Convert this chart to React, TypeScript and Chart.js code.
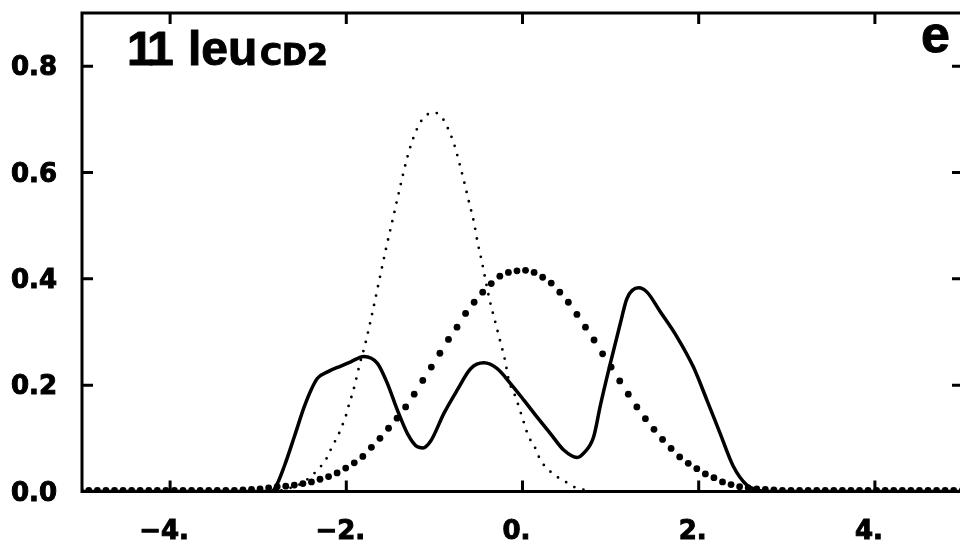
import React, { useEffect, useRef } from "react";
import { Chart, registerables } from "chart.js";

Chart.register(...registerables);

// ---- axes ----
const X_MIN = -5;
const X_MAX = 5;
const Y_MIN = 0;
const Y_MAX = 0.9;
const X_TICKS = [-4, -2, 0, 2, 4];
const X_TICK_LABELS = ["\u22124.", "\u22122.", "0.", "2.", "4."];
const Y_TICKS = [0, 0.2, 0.4, 0.6, 0.8];
const Y_TICK_LABELS = ["0.0", "0.2", "0.4", "0.6", "0.8"];

const TITLE_NUM = "11";
const TITLE_MAIN = "leu";
const TITLE_SUB = "CD2";
const PANEL_LABEL = "e";

// ---- solid curve ----
const SOLID_X = [
  -5, -2.85, -2.8, -2.705, -2.59, -2.478, -2.4, -2.327, -2.213, -2.062, -1.949, -1.8,
  -1.647, -1.533, -1.42, -1.306, -1.193, -1.13, -1.042, -0.892, -0.74, -0.589, -0.438,
  -0.287, -0.136, 0.015, 0.166, 0.317, 0.468, 0.62, 0.695, 0.808, 0.884, 0.997, 1.11,
  1.186, 1.318, 1.413, 1.564, 1.753, 1.94, 2.093, 2.244, 2.394, 2.546, 2.66, 2.8, 5,
];
const SOLID_Y = [
  0, 0, 0.009, 0.047, 0.103, 0.159, 0.191, 0.213, 0.225, 0.236, 0.244, 0.254,
  0.241, 0.203, 0.153, 0.109, 0.084, 0.082, 0.095, 0.147, 0.191, 0.231, 0.242,
  0.231, 0.203, 0.172, 0.14, 0.109, 0.078, 0.064, 0.072, 0.103, 0.162, 0.241, 0.316,
  0.363, 0.383, 0.375, 0.338, 0.291, 0.234, 0.172, 0.109, 0.047, 0.012, 0.003, 0, 0,
];

// ---- fine dotted curve ----
const THIN_X = [
  -5, -2.85, -2.65, -2.5, -2.365, -2.29, -2.225, -2.176, -2.12, -2.07, -2.03, -1.994,
  -1.964, -1.93, -1.9, -1.85, -1.79, -1.715, -1.62, -1.549, -1.47, -1.397, -1.318,
  -1.25, -1.164, -1.096, -1.005, -0.918, -0.858, -0.778, -0.714, -0.657, -0.604,
  -0.552, -0.51, -0.461, -0.37, -0.314, -0.257, -0.2, -0.155, -0.079, -0.004, 0.07,
  0.13, 0.204, 0.3, 0.39, 0.49, 0.58, 0.7, 0.85, 5,
];
const THIN_Y = [
  0, 0, 0.006, 0.016, 0.034, 0.047, 0.062, 0.079, 0.097, 0.114, 0.131, 0.148,
  0.167, 0.184, 0.203, 0.238, 0.274, 0.328, 0.402, 0.457, 0.514, 0.567, 0.622,
  0.66, 0.693, 0.707, 0.713, 0.704, 0.687, 0.654, 0.616, 0.579, 0.542,
  0.507, 0.469, 0.432, 0.358, 0.322, 0.285, 0.248, 0.209, 0.178, 0.14, 0.103,
  0.087, 0.059, 0.04, 0.028, 0.018, 0.009, 0.003, 0, 0,
];

// ---- large-dot curve (sampled on a regular x grid) ----
const BIG_X0 = -5.02;
const BIG_STEP = 0.0972;
const BIG_Y = [
  0.002, 0.002, 0.002, 0.002, 0.002, 0.002, 0.002, 0.002, 0.002, 0.002,
  0.002, 0.002, 0.002, 0.002, 0.002, 0.002, 0.002, 0.002, 0.002, 0.003,
  0.004, 0.005, 0.007, 0.009, 0.01, 0.012, 0.015, 0.018, 0.023, 0.028,
  0.035, 0.044, 0.054, 0.066, 0.083, 0.1, 0.119, 0.138, 0.159, 0.183,
  0.209, 0.234, 0.26, 0.286, 0.309, 0.335, 0.356, 0.375, 0.391, 0.405,
  0.412, 0.415, 0.416, 0.412, 0.403, 0.392, 0.375, 0.356, 0.333, 0.309,
  0.285, 0.259, 0.234, 0.208, 0.183, 0.159, 0.137, 0.117, 0.098, 0.081,
  0.065, 0.053, 0.043, 0.033, 0.026, 0.018, 0.013, 0.009, 0.007, 0.005,
  0.004, 0.003, 0.002, 0.002, 0.002, 0.002, 0.002, 0.002, 0.002, 0.002,
  0.002, 0.002, 0.002, 0.002, 0.002, 0.002, 0.002, 0.002, 0.002, 0.002,
  0.002, 0.002, 0.002, 0.002,
];

const pairs = (xs: number[], ys: number[]) => xs.map((x, i) => ({ x, y: ys[i] }));

const framePlugin = {
  id: "framePlugin",
  afterDraw(chart: any) {
    const { ctx, chartArea: a, scales } = chart;
    const xs = scales.x;
    const ys = scales.y;
    ctx.save();
    ctx.strokeStyle = "#000";
    ctx.lineWidth = 3;
    ctx.strokeRect(a.left, a.top, a.right - a.left, a.bottom - a.top);
    const L = 11;
    ctx.beginPath();
    X_TICKS.forEach((v) => {
      const px = xs.getPixelForValue(v);
      ctx.moveTo(px, a.bottom);
      ctx.lineTo(px, a.bottom - L);
      ctx.moveTo(px, a.top);
      ctx.lineTo(px, a.top + L);
    });
    Y_TICKS.forEach((v) => {
      if (v === 0) return;
      const py = ys.getPixelForValue(v);
      ctx.moveTo(a.left, py);
      ctx.lineTo(a.left + L, py);
      ctx.moveTo(a.right, py);
      ctx.lineTo(a.right - L, py);
    });
    ctx.stroke();

    ctx.fillStyle = "#000";
    ctx.strokeStyle = "#000";
    ctx.lineWidth = 1;
    ctx.lineJoin = "round";
    ctx.textAlign = "left";
    ctx.textBaseline = "alphabetic";
    const text = (s: string, x: number, y: number) => {
      ctx.fillText(s, x, y);
      ctx.strokeText(s, x, y);
    };
    ctx.font = 'bold 48px "Liberation Sans", Arial, sans-serif';
    (ctx as any).letterSpacing = "-4px";
    text(TITLE_NUM, 127, 65);
    (ctx as any).letterSpacing = "0px";
    text(TITLE_MAIN, 188, 65);
    ctx.font = 'bold 30px "DejaVu Sans", sans-serif';
    text(TITLE_SUB, 260, 65);
    ctx.font = 'bold 52px "Liberation Sans", Arial, sans-serif';
    text(PANEL_LABEL, 921, 52);
    ctx.restore();
  },
};

export default function App() {
  const ref = useRef<HTMLCanvasElement | null>(null);

  useEffect(() => {
    if (!ref.current) return;
    const bigX = BIG_Y.map((_, i) => BIG_X0 + i * BIG_STEP);
    const tickFont = { family: "DejaVu Sans", size: 26, weight: "bold" as const };
    const chart = new Chart(ref.current, {
      type: "scatter",
      data: {
        datasets: [
          {
            label: "solid",
            data: pairs(SOLID_X, SOLID_Y),
            showLine: true,
            borderColor: "#000",
            borderWidth: 3.5,
            pointRadius: 0,
            cubicInterpolationMode: "monotone",
            fill: false,
          },
          {
            label: "fine dots",
            data: pairs(THIN_X, THIN_Y),
            showLine: true,
            borderColor: "#000",
            borderWidth: 2.8,
            borderDash: [0, 9.5],
            borderCapStyle: "round",
            pointRadius: 0,
            cubicInterpolationMode: "monotone",
            fill: false,
          },
          {
            label: "large dots",
            data: pairs(bigX, BIG_Y),
            showLine: false,
            pointRadius: 3.4,
            pointBorderWidth: 0,
            pointBackgroundColor: "#000",
            pointBorderColor: "#000",
          },
        ],
      },
      options: {
        responsive: false,
        animation: false,
        events: [],
        layout: { padding: { top: 13, right: 7, left: 0, bottom: 0 } },
        plugins: {
          legend: { display: false },
          tooltip: { enabled: false },
          title: { display: false },
        },
        scales: {
          x: {
            type: "linear",
            min: X_MIN,
            max: X_MAX,
            afterBuildTicks: (s: any) => {
              s.ticks = X_TICKS.map((v) => ({ value: v }));
            },
            afterFit: (s: any) => {
              s.height = 54.5;
              s.paddingLeft = 0;
              s.paddingRight = 0;
              s.paddingTop = 0;
              s.paddingBottom = 0;
            },
            grid: { display: false, drawTicks: false },
            border: { display: false },
            ticks: {
              autoSkip: false,
              maxRotation: 0,
              padding: 25,
              labelOffset: -6,
              color: "#000",
              textStrokeColor: "#000",
              textStrokeWidth: 1,
              font: tickFont,
              callback: (_v: any, i: number) => X_TICK_LABELS[i],
            },
          },
          y: {
            type: "linear",
            min: Y_MIN,
            max: Y_MAX,
            afterBuildTicks: (s: any) => {
              s.ticks = Y_TICKS.map((v) => ({ value: v }));
            },
            afterFit: (s: any) => {
              s.width = 82;
              s.paddingLeft = 0;
              s.paddingRight = 0;
              s.paddingTop = 0;
              s.paddingBottom = 0;
            },
            grid: { display: false, drawTicks: false },
            border: { display: false },
            ticks: {
              autoSkip: false,
              padding: 25,
              labelOffset: 2.5,
              color: "#000",
              textStrokeColor: "#000",
              textStrokeWidth: 1,
              font: tickFont,
              callback: (_v: any, i: number) => Y_TICK_LABELS[i],
            },
          },
        },
      },
      plugins: [framePlugin],
    });
    return () => chart.destroy();
  }, []);

  return (
    <div
      style={{
        position: "fixed",
        left: 0,
        top: 0,
        width: 960,
        height: 546,
        overflow: "hidden",
        background: "#fff",
      }}
    >
      <canvas ref={ref} width={970} height={546} style={{ display: "block", width: 970, height: 546 }} />
    </div>
  );
}
